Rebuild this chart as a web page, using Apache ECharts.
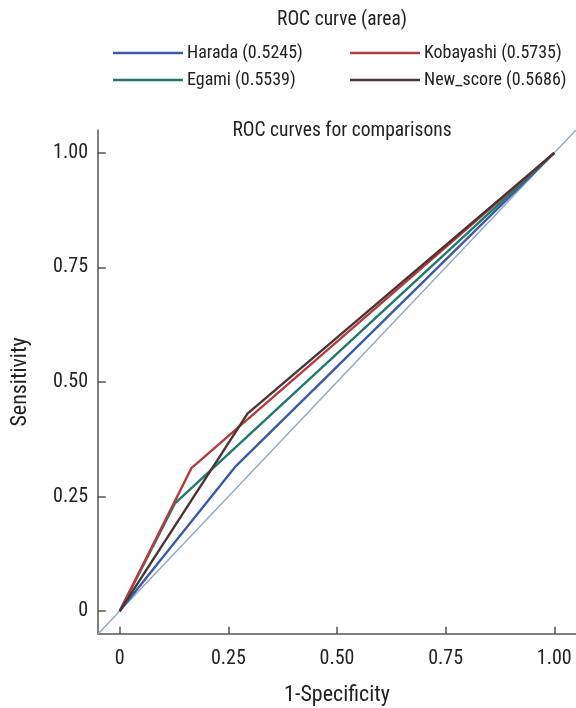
<!DOCTYPE html>
<html><head><meta charset="utf-8">
<script src="https://cdn.jsdelivr.net/npm/echarts@6/dist/echarts.min.js"></script>
<style>html,body{margin:0;padding:0;background:#fff}#c{width:576px;height:708px}</style>
</head><body><div id="c"></div>
<script>
const seriesNames = ['Harada (0.5245)', 'Egami (0.5539)', 'Kobayashi (0.5735)', 'New_score (0.5686)'];
const harada = [[0, 0], [0.265, 0.314], [1, 1]];
const egami = [[0, 0], [0.127, 0.235], [1, 1]];
const kobayashi = [[0, 0], [0.165, 0.312], [1, 1]];
const newScore = [[0, 0], [0.294, 0.431], [1, 1]];
const reference = [[-0.05, -0.05], [1.05, 1.05]];
const ticks = [0, 0.25, 0.5, 0.75, 1];
const tickLabels = ['0', '0.25', '0.50', '0.75', '1.00'];

const F = "'Liberation Sans Narrow','Roboto Condensed','Arial Narrow',Roboto,sans-serif";
const colors = ['#3b5ba9', '#1f7a6b', '#b33c40', '#4a3434'];
const chart = echarts.init(document.getElementById('c'));
const axisCommon = {
  type: 'value', min: -0.05, max: 1.05, interval: 0.05,
  axisLine: { show: true, onZero: false, lineStyle: { color: '#555', width: 1.5 } },
  axisTick: { show: false }, splitLine: { show: false },
  axisLabel: { show: false },
  nameLocation: 'middle',
  nameTextStyle: { fontFamily: F, fontSize: 22, color: '#222' }
};
const dataSets = [harada, egami, kobayashi, newScore];
const legendCommon = { orient: 'vertical', top: 44, padding: 0, itemWidth: 70, itemHeight: 2.5, itemGap: 9, icon: 'rect',
  textStyle: { fontFamily: F, fontSize: 18, color: '#222', padding: [0, 0, 0, -1] } };
const tickLabelStyle = { show: true, position: 'start', formatter: '{b}', fontFamily: F, fontSize: 20, color: '#222' };
chart.setOption({
  animation: false,
  title: [
    { text: 'ROC curve (area)', left: 337, top: 5, textAlign: 'center', textStyle: { fontFamily: F, fontSize: 19.5, fontWeight: 'normal', color: '#222' } },
    { text: 'ROC curves for comparisons', left: 337, top: 116, textAlign: 'center', textStyle: { fontFamily: F, fontSize: 19.5, fontWeight: 'normal', color: '#222' } }
  ],
  legend: [
    Object.assign({ data: [seriesNames[0], seriesNames[1]], left: 113 }, legendCommon),
    Object.assign({ data: [seriesNames[2], seriesNames[3]], left: 350 }, legendCommon)
  ],
  grid: { left: 98, right: 0, top: 130, bottom: 74, outerBoundsMode: 'none', containLabel: false },
  xAxis: Object.assign({}, axisCommon, { name: '1-Specificity', nameGap: 50 }),
  yAxis: Object.assign({}, axisCommon, { name: 'Sensitivity', nameGap: 67, nameRotate: 90 }),
  series: [
    { type: 'line', data: reference, showSymbol: false, silent: true, lineStyle: { color: '#94aabd', width: 1.5 }, z: 1,
      markLine: {
        silent: true, symbol: 'none', animation: false,
        lineStyle: { color: '#555', width: 1.5, type: 'solid' },
        label: tickLabelStyle,
        data: ticks.map((t, i) => [
          { name: tickLabels[i], coord: [-0.05, t], label: Object.assign({}, tickLabelStyle, { distance: 10 }) },
          { coord: [-0.032, t] }
        ]).concat(ticks.map((t, i) => [
          { name: tickLabels[i], coord: [t, -0.05], label: Object.assign({}, tickLabelStyle, { distance: 15 }) },
          { coord: [t, -0.034] }
        ]))
      }
    }
  ].concat(dataSets.map((d, i) => ({
    name: seriesNames[i], type: 'line', data: d, showSymbol: false, color: colors[i],
    lineStyle: { color: colors[i], width: 2.4 }, z: 2 + i
  })))
});
</script></body></html>
